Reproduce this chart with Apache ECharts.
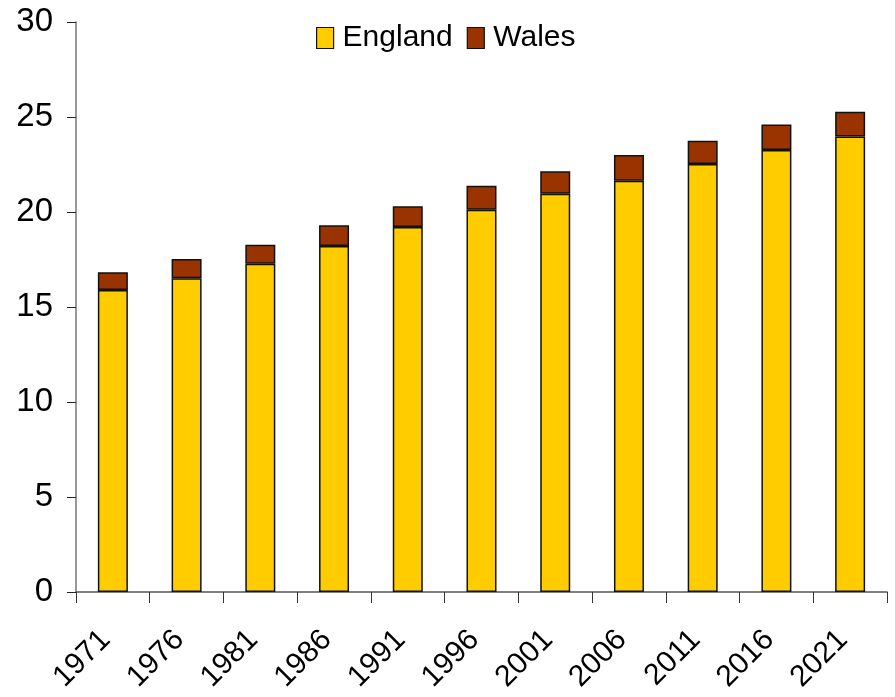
<!DOCTYPE html>
<html>
<head>
<meta charset="utf-8">
<script src="https://cdn.jsdelivr.net/npm/echarts@6/dist/echarts.min.js"></script>
<style>
  html, body { margin: 0; padding: 0; background: #fff; }
  #chart { width: 895px; height: 697px; }
</style>
</head>
<body>
<div id="chart"></div>
<script>
// Population (millions) by census year
const years = ['1971', '1976', '1981', '1986', '1991', '1996', '2001', '2006', '2011', '2016', '2021'];
const england = [15.89, 16.51, 17.28, 18.21, 19.21, 20.12, 20.96, 21.65, 22.53, 23.26, 23.98];
const wales = [0.94, 1.02, 1.00, 1.09, 1.09, 1.26, 1.18, 1.35, 1.22, 1.35, 1.30];
const yTicks = { min: 0, max: 30, interval: 5 };

const FONT = '"Liberation Sans", Arial, sans-serif';

const chart = echarts.init(document.getElementById('chart'));
chart.setOption({
  animation: false,
  backgroundColor: '#fff',
  textStyle: { fontFamily: FONT },
  legend: {
    top: 18,
    left: 311,
    icon: 'rect',
    itemWidth: 17,
    itemHeight: 21,
    itemGap: 14,
    textStyle: { fontSize: 30, color: '#000', fontFamily: FONT, padding: [0, 0, 0, 4] },
    itemStyle: { borderColor: '#111', borderWidth: 1.2 },
    data: ['England', 'Wales']
  },
  grid: { left: 76, right: 8, top: 22, bottom: 105, containLabel: false },
  xAxis: {
    type: 'category',
    data: years,
    boundaryGap: true,
    axisLine: { lineStyle: { color: '#555', width: 1.5 } },
    axisTick: { show: true, alignWithLabel: false, interval: 0, length: 11, lineStyle: { color: '#333' } },
    axisLabel: {
      rotate: 45, interval: 0, margin: 36, fontSize: 30, color: '#000', fontFamily: FONT,
      padding: [0, 10, 0, 0]
    }
  },
  yAxis: {
    type: 'value',
    min: yTicks.min,
    max: yTicks.max,
    interval: yTicks.interval,
    splitLine: { show: false },
    axisLine: { show: true, lineStyle: { color: '#777', width: 1.5 } },
    axisTick: { show: true, length: 9, lineStyle: { color: '#222' } },
    axisLabel: { fontSize: 33, color: '#000', margin: 23, fontFamily: FONT }
  },
  series: [
    {
      name: 'England',
      type: 'bar',
      stack: 'pop',
      barWidth: 30,
      data: england,
      itemStyle: { color: '#FFCC00', borderColor: '#111', borderWidth: 1.5 }
    },
    {
      name: 'Wales',
      type: 'bar',
      stack: 'pop',
      barWidth: 30,
      data: wales,
      itemStyle: { color: '#993300', borderColor: '#111', borderWidth: 1.5 }
    }
  ]
});
</script>
</body>
</html>
